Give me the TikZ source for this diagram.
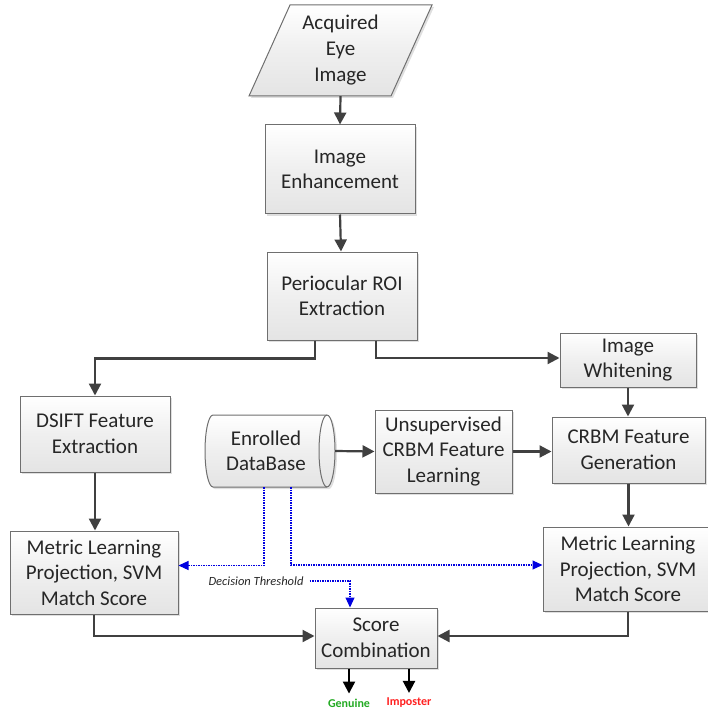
\documentclass[tikz,border=0pt]{standalone}
\usepackage{fontspec}
\setmainfont{Carlito}
\usetikzlibrary{arrows.meta,shadows,calc}
\definecolor{linegray}{HTML}{404040}
\definecolor{bordergray}{HTML}{6F6F6F}
\definecolor{boxfill}{HTML}{EFEFEF}
\definecolor{dblue}{HTML}{0000E0}
\definecolor{ggreen}{HTML}{22AA22}
\definecolor{ired}{HTML}{FF2020}
\tikzset{
  procbox/.style={draw=bordergray, line width=1pt, top color=white, bottom color=boxfill!80!gray!70, middle color=boxfill,
    align=center, inner sep=0pt, font=\fontsize{21}{25.5}\selectfont, text=black!85,
    drop shadow={shadow xshift=2pt, shadow yshift=-2pt, opacity=0.25, fill=gray}},
  arr/.style={draw=linegray, line width=2.2pt, -{Triangle[length=12pt,width=12pt]}, color=linegray},
  bluearr/.style={draw=dblue, line width=1.1pt, dash pattern=on 1.6pt off 0.9pt, -{Triangle[length=10pt,width=9pt]}, color=dblue},
  outlabel/.style={font=\fontsize{12}{14}\selectfont\bfseries, inner sep=1pt}
}
\begin{document}
\begin{tikzpicture}[x=1pt,y=1pt]
\useasboundingbox (0,0) rectangle (707,-711);
% Acquired Eye Image parallelogram
\fill[gray, opacity=0.25] (292,-7) -- (434,-7) -- (393,-98) -- (251,-98) -- cycle;
\draw[draw=bordergray, line width=1pt, top color=white, bottom color=boxfill!80!gray!70, middle color=boxfill]
  (290,-5) -- (432,-5) -- (391,-96) -- (249,-96) -- cycle;
\node[minimum height=91pt, minimum width=100pt, inner sep=0pt, align=center, font=\fontsize{21}{26}\selectfont, text=black!85]
  (acq) at (340.5,-50.5) {Acquired\\Eye\\Image};

\node[procbox, minimum width=150pt, minimum height=89pt] (enh) at (340,-169.5) {Image\\Enhancement};
\node[procbox, minimum width=150pt, minimum height=88pt] (roi) at (342,-296) {Periocular ROI\\Extraction};
\node[procbox, minimum width=136pt, minimum height=54pt] (whiten) at (628,-360) {Image\\Whitening};
\node[procbox, minimum width=153pt, minimum height=66pt] (crbm) at (628.5,-450) {CRBM Feature\\Generation};
\node[procbox, minimum width=170pt, minimum height=84pt] (rmetric) at (628,-569) {Metric Learning\\Projection, SVM\\Match Score};
\node[procbox, minimum width=150pt, minimum height=76pt] (dsift) at (95,-434) {DSIFT Feature\\Extraction};
\node[procbox, minimum width=168pt, minimum height=83pt] (lmetric) at (94,-572.5) {Metric Learning\\Projection, SVM\\Match Score};
\node[procbox, minimum width=137pt, minimum height=83pt] (unsup) at (443.5,-451.5) {Unsupervised\\CRBM Feature\\Learning};
\node[procbox, minimum width=122pt, minimum height=60pt] (score) at (376,-638) {Score\\Combination};

% Enrolled DataBase cylinder
\fill[gray, opacity=0.25] (215,-417) -- (329,-417) arc[start angle=90,end angle=-90,x radius=8,y radius=36]
  -- (215,-489) arc[start angle=270,end angle=90,x radius=8,y radius=36] -- cycle;
\draw[draw=bordergray, line width=1pt, top color=white, bottom color=boxfill!80!gray!70, middle color=boxfill]
  (213,-415) -- (327,-415) arc[start angle=90,end angle=-90,x radius=8,y radius=36]
  -- (213,-487) arc[start angle=270,end angle=90,x radius=8,y radius=36] -- cycle;
\draw[draw=bordergray, line width=1pt] (327,-415) arc[start angle=90,end angle=270,x radius=8,y radius=36];
\node[minimum width=130pt, minimum height=72pt, inner sep=0pt, align=center, font=\fontsize{21}{25.5}\selectfont, text=black!85]
  (db) at (266,-451) {Enrolled\\DataBase};

% Main connectors
\draw[arr] (acq.south) -- (enh.north);
\draw[arr] (enh.south) -- ([xshift=-1pt]roi.north);
\draw[arr] ([xshift=-27pt]roi.south) |- ++(0,-18) -| (dsift.north);
\draw[arr] ([xshift=34pt]roi.south) |- ([yshift=2pt]whiten.west);
\draw[arr] (whiten.south) -- (whiten.south |- crbm.north);
\draw[arr] (crbm.south) -- (crbm.south |- rmetric.north);
\draw[arr] (dsift.south) -- (dsift.south |- lmetric.north);
\draw[arr] ([xshift=4pt]db.east) -- (unsup.west);
\draw[arr] (unsup.east) -- (unsup.east -| crbm.west);
\draw[arr] (lmetric.south) |- ([yshift=2pt]score.west);
\draw[arr] (rmetric.south) |- ([yshift=2pt]score.east);

% Outputs
\node[outlabel, text=ggreen] (gen) at (349,-703) {Genuine};
\node[outlabel, text=ired] (imp) at (409,-703) {Imposter};
\draw[arr, draw=black, color=black] (gen.north |- score.south) -- ([yshift=4pt]gen.north);
\draw[arr, draw=black, color=black] (imp.north |- score.south) -- ([yshift=4pt]imp.north);

% Blue dotted threshold connectors
\coordinate (dbl) at ([xshift=-2pt]db.south);
\coordinate (dbr) at ([xshift=25pt]db.south);
\draw[bluearr] (dbl) |- ([yshift=7pt]lmetric.east);
\draw[bluearr] (dbr) |- ([yshift=4pt]rmetric.west);
\node[font=\fontsize{12.5}{14}\selectfont\itshape, text=black!85, inner sep=1pt] (thr) at (256,-581) {Decision Threshold};
\draw[bluearr] ([xshift=5pt]thr.east) -| ([xshift=-26pt]score.north);
\end{tikzpicture}
\end{document}
